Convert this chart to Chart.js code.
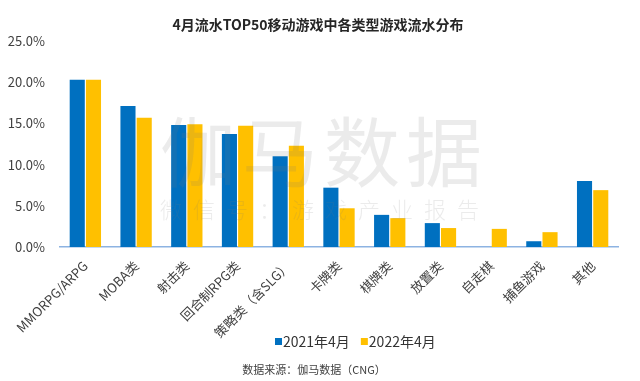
<!DOCTYPE html>
<html>
<head>
<meta charset="utf-8">
<script src="https://cdn.jsdelivr.net/npm/chart.js@4.4.1/dist/chart.umd.min.js"></script>
<style>
html,body{margin:0;padding:0;background:#fff;}
#wrap{width:640px;height:381px;position:relative;}
</style>
</head>
<body>
<div id="wrap"><canvas id="c" width="640" height="381"></canvas></div>
<script>
const categories = ["MMORPG/ARPG","MOBA类","射击类","回合制RPG类","策略类（含SLG）","卡牌类","棋牌类","放置类","自走棋","捕鱼游戏","其他"];
const series2021 = [20.3,17.1,14.8,13.7,11.0,7.2,3.9,2.9,0,0.7,8.0];
const series2022 = [20.3,15.7,14.9,14.7,12.3,4.7,3.5,2.3,2.2,1.8,6.9];
const seriesNames = ["2021年4月","2022年4月"];
const yTicks = [0,5,10,15,20,25];
const titleText = "4月流水TOP50移动游戏中各类型游戏流水分布";
const sourceText = "数据来源：伽马数据（CNG）";
const watermarkMain = "伽马数据";
const watermarkSub = "微信号：游戏产业报告";

const FONT = '"Noto Sans CJK SC","Noto Sans",sans-serif';

const decor = {
  id: 'decor',
  afterDraw(chart) {
    const ctx = chart.ctx;
    ctx.save();
    // title
    ctx.fillStyle = '#262626';
    ctx.font = 'bold 14px ' + FONT;
    ctx.textAlign = 'center';
    ctx.textBaseline = 'middle';
    ctx.fillText(titleText, 318, 25);
    // watermark
    ctx.fillStyle = 'rgba(120,120,120,0.15)';
    ctx.font = '76px ' + FONT;
    ctx.textAlign = 'left';
    ctx.letterSpacing = '6px';
    ctx.fillText(watermarkMain, 160, 152);
    ctx.font = '300 22px ' + FONT;
    ctx.letterSpacing = '11px';
    ctx.fillText(watermarkSub, 160, 210);
    ctx.letterSpacing = '0px';
    // legend
    ctx.font = '14px ' + FONT;
    ctx.textBaseline = 'middle';
    let x = 275;
    chart.data.datasets.forEach(ds => {
      ctx.fillStyle = ds.backgroundColor;
      ctx.fillRect(x, 338, 7, 7);
      x += 8;
      ctx.fillStyle = '#333333';
      ctx.fillText(ds.label, x, 341.5);
      x += ctx.measureText(ds.label).width + 11;
    });
    // source
    ctx.font = '11px ' + FONT;
    ctx.fillStyle = '#404040';
    ctx.textAlign = 'center';
    ctx.fillText(sourceText, 314, 370);
    ctx.restore();
  }
};

new Chart(document.getElementById('c'), {
  type: 'bar',
  data: {
    labels: categories,
    datasets: [
      {label: seriesNames[0], data: series2021, backgroundColor: '#0070C0', categoryPercentage: 0.64, barPercentage: 0.93},
      {label: seriesNames[1], data: series2022, backgroundColor: '#FFC000', categoryPercentage: 0.64, barPercentage: 0.93}
    ]
  },
  options: {
    responsive: false,
    animation: false,
    devicePixelRatio: 1,
    layout: {padding: {top: 41, right: 22, bottom: 34, left: 0}},
    plugins: {legend: {display: false}, title: {display: false}, tooltip: {enabled: false}},
    scales: {
      x: {
        grid: {display: false},
        border: {display: true, color: '#8DB3E2', width: 1.5},
        ticks: {maxRotation: 45, minRotation: 45, color: '#404040', font: {family: FONT, size: 13}, padding: 3},
        afterFit(scale) { scale.height = 100; }
      },
      y: {
        min: 0, max: 25,
        afterBuildTicks(scale) { scale.ticks = yTicks.map(v => ({value: v})); },
        grid: {display: false},
        border: {display: false},
        ticks: {color: '#404040', font: {family: FONT, size: 13}, padding: 7, callback: v => v.toFixed(1) + '%'},
        afterFit(scale) { scale.width = 60; }
      }
    }
  },
  plugins: [decor]
});
</script>
</body>
</html>
